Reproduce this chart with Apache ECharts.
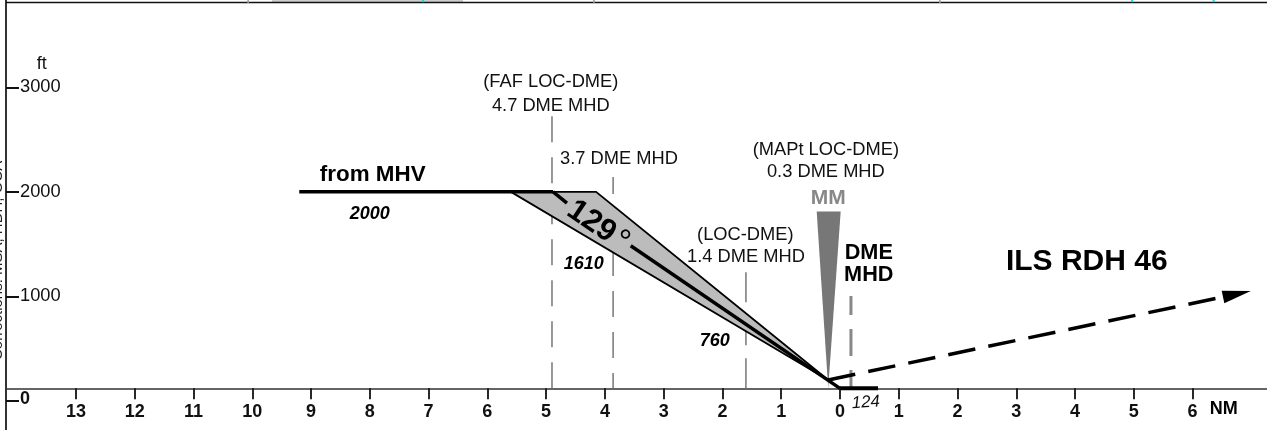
<!DOCTYPE html>
<html>
<head>
<meta charset="utf-8">
<style>html,body{margin:0;padding:0;background:#fff;overflow:hidden}#c{width:1267px;height:430px}</style>
<script src="https://cdn.jsdelivr.net/npm/echarts@6/dist/echarts.min.js"></script>
</head>
<body>
<div id="c"></div>
<script>
const xTicks = [-13,-12,-11,-10,-9,-8,-7,-6,-5,-4,-3,-2,-1,0,1,2,3,4,5,6];
const yTicks = [0,1000,2000,3000];
const levelSegment = [[-9.2,2000],[-4.88,2000]];
const corridor = [[-5.6,2000],[-4.15,2000],[-0.2,201]];
const glideUpper = [[-4.88,2000],[-4.645,1893]];
const glideLower = [[-3.56,1485],[0,121]];
const runwayStub = [[0,121],[0.647,121]];
const markerWedge = [[-0.396,1812],[0.012,1812],[-0.2,121]];
const fafLine = [[-4.9,121],[-4.9,2725]];
const dme37Line = [[-3.86,2142],[-3.86,121]];
const dme14Line = [[-1.6,121],[-1.6,1234]];
const dmeLine = [[0.187,1004],[0.187,121]];
const missedPath = [[-0.2,201],[6.55,999]];
const arrowHead = [[6.99,1052],[6.495,1055],[6.54,934]];
const topRule = [[-14.19,3811],[7.266,3811]];
const topGreyTicks = [-10.07,-4.186,1.7];
const topCyanTicks = [-7.1,4.96,6.35];
const topGreyBar = [[-9.665,3825],[-6.415,3825]];
const sideNote = 'Corrections: MSA, HDH, OCA';
const annotations = [
  ['ft',-13.58,3225,18,'normal','normal','#111',0],
  ['(FAF LOC-DME)',-4.92,3050,18.3,'normal','normal','#111',0],
  ['4.7 DME MHD',-4.92,2820,18.3,'normal','normal','#111',0],
  ['3.7 DME MHD',-3.76,2314,18.3,'normal','normal','#111',0],
  ['from MHV',-7.95,2160,22.4,'normal','bold','#000',0],
  ['2000',-8.0,1788,18,'italic','bold','#000',0],
  ['1610',-4.36,1313,18,'italic','bold','#000',0],
  ['760',-2.13,574,18,'italic','bold','#000',0],
  ['(LOC-DME)',-1.61,1587,18.3,'normal','normal','#111',0],
  ['1.4 DME MHD',-1.6,1380,18.3,'normal','normal','#111',0],
  ['(MAPt LOC-DME)',-0.24,2405,18.3,'normal','normal','#111',0],
  ['0.3 DME MHD',-0.24,2193,18.3,'normal','normal','#111',0],
  ['MM',-0.2,1943,21,'normal','bold','#888',0],
  ['DME',0.49,1415,21.7,'normal','bold','#000',0],
  ['MHD',0.49,1202,21.7,'normal','bold','#000',0],
  ['124',0.44,-15,17,'italic','normal','#111',4],
  ['ILS RDH 46',4.2,1330,30,'normal','bold','#000',0],
  ['NM',6.53,-80,18,'normal','bold','#000',0],
  ['129',-4.23,1715,31,'normal','bold','#000',-34],
  ['°',-3.74,1520,34,'normal','normal','#000',-34]
];

function line(name, data, color, width, z, dash, offset) {
  return {name, type:'line', data, z, showSymbol:false, silent:true, clip:false,
    lineStyle:{color, width, type: dash || 'solid', dashOffset: offset || 0, cap:'butt'}};
}
function poly(name, pts, fill, stroke, width, z) {
  return {name, type:'custom', z, silent:true, data:[pts[0]], clip:false,
    renderItem:(p, api) => ({type:'polygon', shape:{points: pts.map(q => api.coord(q))},
      style:{fill, stroke: stroke || fill, lineWidth: width, lineJoin:'miter'}})};
}
const series = [
  line('FAF', fafLine, '#777', 1.5, 1, [26,15]),
  line('3.7 DME', dme37Line, '#777', 1.5, 1, [26,15], 9),
  line('1.4 DME', dme14Line, '#777', 1.5, 1, [30,13]),
  line('DME MHD', dmeLine, '#888', 3, 1, [27,14], 8),
  poly('corridor', corridor, '#bcbcbc', '#000', 1.8, 3),
  poly('MM', markerWedge, '#777', null, 0, 2),
  line('level', levelSegment, '#000', 3.5, 4),
  line('glide upper', glideUpper, '#000', 3.5, 4),
  line('glide lower', glideLower, '#000', 3.5, 4),
  line('stub', runwayStub, '#000', 4, 4),
  line('missed', missedPath, '#000', 3.5, 4, [27.6,13.3]),
  poly('arrow', arrowHead, '#000', null, 0, 5),
  line('top rule', topRule, '#111', 1.5, 6),
  line('top bar', topGreyBar, '#ccc', 2.5, 5)
];
topGreyTicks.forEach(v => series.push(line('top tick', [[v,3835],[v,3806]], '#999', 1.5, 7)));
topCyanTicks.forEach(v => series.push(line('top cyan', [[v,3835],[v+0.02,3815]], '#00e0e0', 2, 7)));
series.push({
  name:'annotations', type:'scatter', symbolSize:0, z:10, silent:true, clip:false,
  itemStyle:{opacity:1},
  data: annotations.map(a => ({
    value:[a[1],a[2]],
    label:{show:true, position:'inside', formatter:a[0], fontSize:a[3], fontStyle:a[4], fontWeight:a[5],
      color:a[6], opacity:1, rotate:a[7], align:'center', verticalAlign:'middle', fontFamily:'Liberation Sans'}
  }))
});

const chart = echarts.init(document.getElementById('c'), null, {renderer:'canvas'});
chart.setOption({
  animation:false,
  backgroundColor:'#fff',
  textStyle:{fontFamily:'Liberation Sans'},
  grid:{left:6, right:0, top:0, bottom:0, containLabel:false, outerBoundsMode:'none'},
  xAxis:{
    type:'value', min:-14.19, max:7.266, position:'bottom', offset:-41.7,
    splitLine:{show:false},
    axisLine:{show:true, onZero:false, lineStyle:{color:'#333', width:1.5}},
    axisTick:{show:true, length:11, customValues:xTicks, lineStyle:{color:'#111', width:1.8}},
    axisLabel:{show:true, customValues:xTicks, margin:15, fontSize:18, fontWeight:'bold', color:'#111',
      fontFamily:'Liberation Sans', formatter:v => String(Math.abs(v))}
  },
  yAxis:{
    type:'value', min:-277.3, max:3834.7, position:'left',
    splitLine:{show:false},
    axisLine:{show:true, onZero:false, lineStyle:{color:'#333', width:2}},
    axisTick:{show:true, inside:true, length:13, customValues:yTicks, lineStyle:{color:'#111', width:2}},
    axisLabel:{show:true, inside:true, customValues:yTicks, margin:14, fontSize:18.3, color:'#111',
      fontFamily:'Liberation Sans',
      formatter:v => v === 0 ? '{z|0}' : String(v),
      rich:{z:{fontSize:18, fontWeight:'bold', color:'#111', padding:[0,0,4,0]}}}
  },
  graphic:[{type:'text', x:5, y:360, rotation:Math.PI/2*1, silent:true, z:20,
    style:{text:sideNote, fontSize:15, fontFamily:'Liberation Sans', fill:'#222', textVerticalAlign:'bottom', textAlign:'left'}}],
  series
});
</script>
</body>
</html>
